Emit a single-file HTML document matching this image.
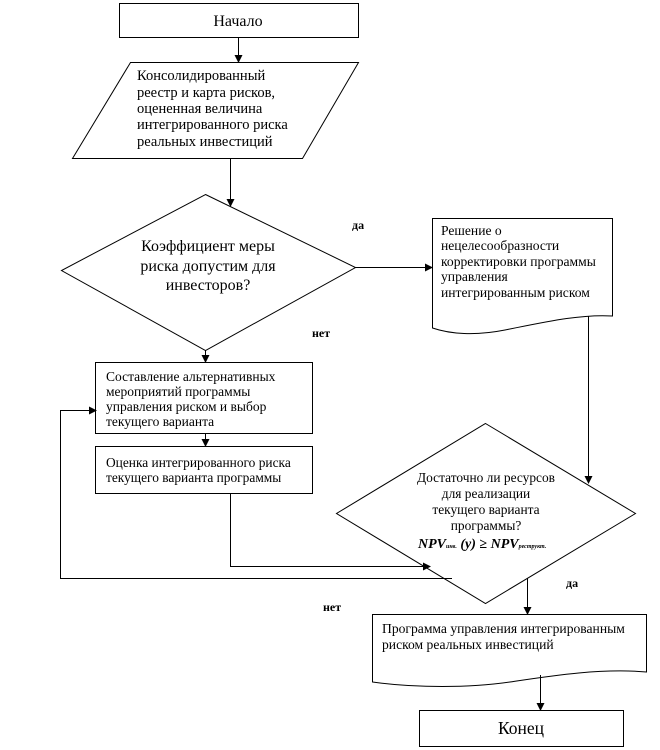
<!DOCTYPE html>
<html><head><meta charset="utf-8"><style>
body{margin:0;background:#fff}
svg{display:block}
text{font-family:"Liberation Serif","DejaVu Serif",serif;fill:#000}
.b{font-weight:bold;font-size:12px}
</style></head><body>
<svg width="660" height="750" viewBox="0 0 660 750" xmlns="http://www.w3.org/2000/svg">
<defs><marker id="a" markerWidth="8" markerHeight="8" refX="7" refY="4" orient="auto" markerUnits="userSpaceOnUse"><path d="M0,0 L8,4 L0,8 z" fill="#000"/></marker></defs>
<g fill="none" stroke="#000" stroke-width="1">
<rect x="119.5" y="3.5" width="239" height="34"/>
<polygon points="130.5,62.5 358.5,62.5 302.5,158.5 72.5,158.5"/>
<polygon points="205.5,194.5 355.5,267.5 205.5,350.5 61.5,270.5"/>
<path d="M432.5,218.5 H612.5 V316 C580,314 545,322 505,330 C475,336 450,334 432.5,328 Z"/>
<rect x="95.5" y="362.5" width="217" height="71"/>
<rect x="95.5" y="446.5" width="217" height="47"/>
<polygon points="485.5,423.5 635.5,513.5 485.5,603.5 336.5,513.5"/>
<path d="M372.5,614.5 H646.5 V672 C600,668 550,676 510,682 C470,688 415,688 372.5,682 Z"/>
<rect x="419.5" y="710.5" width="204" height="36"/>
<line x1="238.5" y1="37" x2="238.5" y2="62" marker-end="url(#a)"/>
<line x1="230.5" y1="158" x2="230.5" y2="206" marker-end="url(#a)"/>
<line x1="355" y1="267.5" x2="432" y2="267.5" marker-end="url(#a)"/>
<line x1="205.5" y1="350" x2="205.5" y2="362" marker-end="url(#a)"/>
<line x1="205.5" y1="433" x2="205.5" y2="446" marker-end="url(#a)"/>
<line x1="588.5" y1="316" x2="588.5" y2="483" marker-end="url(#a)"/>
<polyline points="230.5,493 230.5,566.5 430,566.5" marker-end="url(#a)"/>
<polyline points="452,578.5 60.5,578.5 60.5,410.5 96,410.5" marker-end="url(#a)"/>
<line x1="527.5" y1="578" x2="527.5" y2="614" marker-end="url(#a)"/>
<line x1="540.5" y1="675" x2="540.5" y2="710" marker-end="url(#a)"/>
</g>
<text x="238" y="26" text-anchor="middle" style="font-size:16px">Начало</text>
<text style="font-size:14.5px"><tspan x="137" y="80">Консолидированный</tspan><tspan x="137" y="97">реестр и карта рисков,</tspan><tspan x="137" y="113">оцененная величина</tspan><tspan x="137" y="129">интегрированного риска</tspan><tspan x="137" y="146">реальных инвестиций</tspan></text>
<text style="font-size:16px" text-anchor="middle"><tspan x="208" y="251">Коэффициент меры</tspan><tspan x="208" y="271">риска допустим для</tspan><tspan x="208" y="290">инвесторов?</tspan></text>
<text class="b" x="352" y="229">да</text>
<text class="b" x="312" y="337">нет</text>
<text class="b" x="566" y="587">да</text>
<text class="b" x="323" y="611">нет</text>
<text style="font-size:13.6px"><tspan x="441" y="235">Решение о</tspan><tspan x="441" y="250">нецелесообразности</tspan><tspan x="441" y="266">корректировки программы</tspan><tspan x="441" y="281">управления</tspan><tspan x="441" y="297">интегрированным риском</tspan></text>
<text style="font-size:13.5px"><tspan x="106" y="381">Составление  альтернативных</tspan><tspan x="106" y="396">мероприятий программы</tspan><tspan x="106" y="411">управления риском и выбор</tspan><tspan x="106" y="426">текущего варианта</tspan></text>
<text style="font-size:13.4px"><tspan x="106" y="467">Оценка интегрированного  риска</tspan><tspan x="106" y="482">текущего варианта программы</tspan></text>
<text style="font-size:13.4px" text-anchor="middle"><tspan x="486" y="482">Достаточно ли ресурсов</tspan><tspan x="486" y="498">для реализации</tspan><tspan x="486" y="514">текущего  варианта</tspan><tspan x="486" y="530">программы?</tspan></text>
<text x="418" y="548" style="font-size:14px;font-weight:bold;font-style:italic">NPV<tspan style="font-size:6px">инв.</tspan> (y) ≥ NPV<tspan style="font-size:6px">реструкт.</tspan></text>
<text style="font-size:13.6px"><tspan x="382" y="633">Программа  управления интегрированным</tspan><tspan x="382" y="649">риском реальных инвестиций</tspan></text>
<text x="521" y="734" text-anchor="middle" style="font-size:17.5px">Конец</text>
</svg>
</body></html>
